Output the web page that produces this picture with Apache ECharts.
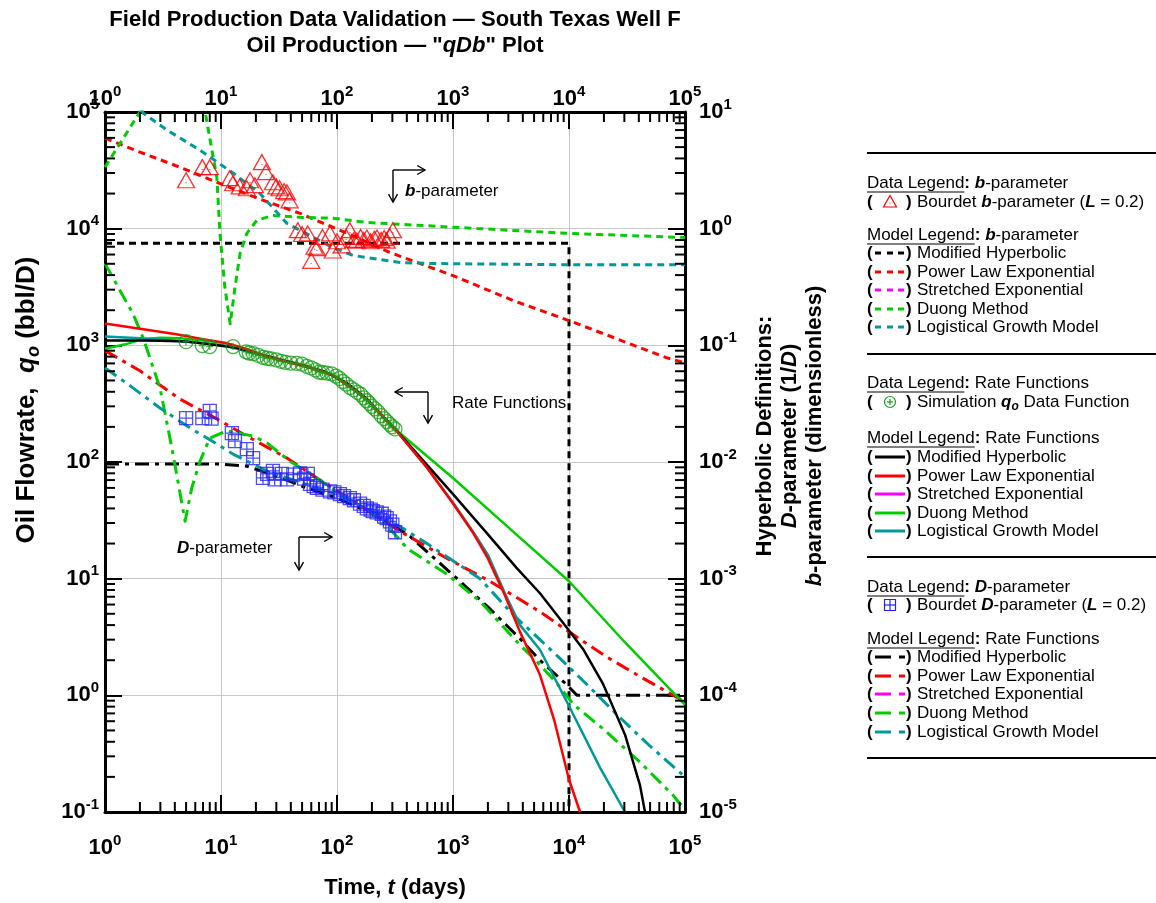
<!DOCTYPE html>
<html>
<head>
<meta charset="utf-8">
<title>qDb Plot — South Texas Well F</title>
<script src="https://cdn.jsdelivr.net/npm/echarts@6.0.0/dist/echarts.min.js"></script>
<style>
html,body{margin:0;padding:0;background:#fff;}
#chart{width:1156px;height:903px;}
</style>
</head>
<body>
<div id="chart"></div>
<script>
// ---- axis extents ----
const timeRange = [1, 1e5];      // days
const rateRange = [0.1, 1e5];    // oil flowrate, bbl/D
const paramRange = [1e-5, 10];   // D (1/D) and b (dimensionless)

// ---- data functions [t (days), value] ----
const simRate = [
  [5,1075],[6.9,995],[8,975],[12.7,975],[16.5,880],[17.5,860],[19,850],[21,820],[23,790],[25,775],
  [27,765],[30,750],[33,730],[36,715],[40,705],[45,700],[50,690],[55,660],[60,640],[65,615],
  [70,590],[75,585],[82,578],[90,570],[98,545],[105,520],[112,490],[120,465],[130,435],[140,415],
  [150,395],[160,380],[170,355],[180,335],[190,318],[200,300],[212,285],[225,270],[240,250],
  [255,235],[270,222],[285,210],[300,200],[316,192]
];
const bourdetB = [
  [5,2.6],[6.9,3.37],[8,3.37],[11.9,2.71],[12.7,2.45],[14.5,2.3],[16.7,2.22],[17.8,2.6],[19.6,2.36],
  [22.5,3.72],[24.4,3.05],[28,2.5],[30,2.3],[32,2.22],[35,2.1],[37,2.05],[39,1.75],[46,0.97],[50,0.9],
  [56,0.91],[60,0.53],[64,0.7],[67,0.68],[75,0.85],[87,0.91],[92,0.65],[100,0.78],[110,0.72],
  [120,0.85],[129,0.97],[140,0.8],[148,0.79],[160,0.85],[170,0.8],[181,0.84],[195,0.78],[210,0.82],
  [221,0.84],[240,0.8],[255,0.83],[268,0.79],[285,0.86],[303,0.97]
];
const bourdetD = [
  [5,0.0238],[6.9,0.0238],[8,0.0274],[8.3,0.0235],[12.4,0.0177],[13.2,0.0151],[16.7,0.0129],
  [18.9,0.0108],[23,0.0073],[25,0.0079],[28,0.0084],[29,0.0071],[33.5,0.0079],[37,0.0071],
  [42,0.0078],[48,0.0080],[52,0.0072],[56,0.0079],[58.5,0.0065],[63,0.0062],[67,0.0060],
  [75,0.0058],[87,0.0056],[95,0.0055],[106,0.0053],[115,0.0051],[129,0.0049],[140,0.0047],
  [158,0.0044],[170,0.0042],[181,0.0040],[195,0.0039],[203,0.0038],[220,0.0037],[243,0.0036],
  [255,0.0034],[268,0.0033],[286,0.0031],[300,0.0029],[316,0.0025]
];

// ---- rate model functions, qo (bbl/D) ----
const qModHyp = [
  [1,1100],[2,1100],[3,1095],[5,1080],[8,1020],[13,960],[20,860],[30,770],[50,680],[80,590],
  [120,480],[180,350],[250,245],[316,192],[500,115],[1000,53],[2000,24],[3500,12.5],[5620,7.5],
  [1e4,3.6],[13200,2.5],[19600,1.26],[30400,0.46],[40900,0.17],[45200,0.1]
];
const qPowerLaw = [
  [1,1540],[2,1390],[4,1250],[7,1130],[11,1050],[16,940],[25,800],[40,710],[60,640],[90,560],
  [130,440],[180,345],[250,245],[316,192],[600,89],[1000,44],[1500,24.5],[2000,14.9],[2800,7.2],
  [3780,3.5],[5620,1.5],[7500,0.6],[1e4,0.19],[12450,0.1]
];
const qDuong = [
  [1,935],[1.5,1020],[2.1,1130],[3,1160],[4.5,1150],[7,1100],[11,1040],[16,940],[25,800],[40,710],
  [60,640],[90,560],[130,440],[180,345],[250,245],[316,192],[1000,73],[3000,27.5],[1e4,9.5],
  [3e4,2.88],[1e5,0.83]
];
const qLogistic = [
  [1,1190],[2,1150],[4,1100],[7,1040],[11,990],[16,900],[25,800],[40,710],[60,640],[90,560],
  [130,440],[180,345],[250,245],[316,192],[600,89],[1000,45],[1500,25],[2000,16],[2800,7.5],
  [3780,4.0],[5620,2.46],[1e4,0.81],[18500,0.24],[30400,0.1]
];

// ---- b-parameter model functions ----
const bModHyp = [[1,0.75],[1e4,0.75],[1e4,1e-5]];
const bPowerLaw = [
  [1,5.97],[2,4.53],[4.4,3.37],[9.2,2.5],[21.7,1.79],[48,1.35],[129,0.893],[285,0.625],
  [1000,0.396],[3300,0.242],[1e4,0.163],[7e4,0.078],[1e5,0.0708]
];
const bDuong = [
  [1,3.37],[2,10],[2.3,20],[6.5,20],[7.3,10],[9.2,2.76],[9.8,0.912],[10.8,0.313],[12,0.153],
  [13.2,0.313],[14.6,0.613],[16.7,0.912],[20.4,1.18],[28,1.3],[48,1.25],[92,1.23],[181,1.13],
  [490,1.07],[1710,1.0],[1e4,0.91],[1e5,0.84]
];
const bLogistic = [
  [1.9,13],[2.13,9.8],[3.42,7.0],[6.6,4.7],[12.7,3.0],[21.7,2.0],[37,1.11],[92,0.69],[137,0.59],
  [350,0.513],[630,0.503],[1e4,0.49],[1e5,0.49]
];

// ---- D-parameter model functions ----
const dModHyp = [
  [1,0.0096],[10,0.0096],[16.7,0.0092],[30,0.0076],[50,0.0062],[100,0.0049],[200,0.00364],
  [316,0.00281],[426,0.0023],[1150,9.5e-4],[2085,5.5e-4],[3780,3.06e-4],[5620,2.0e-4],
  [9600,1.23e-4],[11700,1.0e-4],[1e5,1.0e-4]
];
const dPowerLaw = [
  [1,0.09],[2,0.0605],[4.4,0.0347],[9.2,0.0234],[15.5,0.0174],[37,0.0108],[67,0.0073],[130,0.0048],
  [350,0.00255],[890,0.00149],[2085,9.5e-4],[5620,5.2e-4],[1e4,3.5e-4],[21000,2.14e-4],
  [44000,1.39e-4],[1e5,8.8e-5]
];
const dDuong = [
  [1,0.504],[1.35,0.294],[1.74,0.187],[2.13,0.116],[2.98,0.0432],[3.86,0.0117],[4.9,0.0031],
  [5.6,0.006],[6.6,0.0102],[8,0.016],[11.2,0.0185],[18.9,0.0167],[24.9,0.0146],[39,0.0102],
  [67,0.0073],[100,0.0055],[200,0.0037],[316,0.0024],[401,0.00182],[888,0.00109],[1710,6.4e-4],
  [3780,2.7e-4],[5300,1.94e-4],[7900,1.26e-4],[11000,8.3e-5],[19500,5.2e-5],[40900,2.68e-5],
  [78900,1.39e-5],[1e5,1.04e-5]
];
const dLogistic = [
  [1,0.0641],[1.74,0.0432],[2.98,0.029],[5.4,0.0196],[9.2,0.0143],[12.7,0.0117],[24.9,0.00836],
  [50,0.0066],[100,0.0052],[200,0.0038],[370,0.0027],[630,0.00193],[1220,0.00125],[1710,0.001],
  [3300,4.9e-4],[5620,3.0e-4],[8400,2.06e-4],[15000,1.18e-4],[26000,6.8e-5],[48800,3.75e-5],
  [1e5,2.0e-5]
];

// ---- legend texts ----
const modelNames = ['Modified Hyperbolic','Power Law Exponential','Stretched Exponential','Duong Method','Logistical Growth Model'];

// ---- styling ----
const FONT = '"Liberation Sans", Arial, Helvetica, sans-serif';
const COL = {
  black:'#000000', red:'#ff0000', magenta:'#ff00ff', green:'#00cc00',
  teal:'#009999', dataGreen:'#169f16', blue:'#2222ff', grid:'#c8c8c8'
};
const modelColors = [COL.black, COL.red, COL.magenta, COL.green, COL.teal];
const DASH_B = [7,5];
const DASH_D = [14,6,4,6];

const SYM_TRIANGLE = 'path://M10,0 L20,18 L0,18 Z M10,11.5 L10,12.5';
const SYM_CIRCLE_PLUS = 'path://M10,0 A10,10 0 1,1 9.99,0 Z M10,5 L10,15 M5,10 L15,10';
const SYM_SQUARE_GRID = 'path://M0,0 L20,0 L20,20 L0,20 Z M10,0 L10,20 M0,10 L20,10';

function modelLine(name, data, color, yAxisIndex, kind) {
  return {
    name, type:'line', data, xAxisIndex:0, yAxisIndex,
    symbol:'none', showSymbol:false, clip:true, z:3, smooth:false,
    lineStyle:{
      color,
      width: kind === 'solid' ? 2.5 : 3,
      type: kind === 'solid' ? 'solid' : (kind === 'dash' ? DASH_B : DASH_D),
      cap:'butt', join:'round'
    },
    emphasis:{disabled:true}
  };
}
function dataPoints(name, data, yAxisIndex, symbol, size, color) {
  return {
    name, type:'scatter', data, xAxisIndex:0, yAxisIndex, symbol, symbolSize:size, z:8,
    itemStyle:{color:'rgba(0,0,0,0)', borderColor:color, borderWidth:1.3},
    emphasis:{disabled:true}
  };
}

// decade tick labels as 10^n
function powLabel(v) {
  const e = Math.round(Math.log10(v));
  return '{b|10}{e|' + e + '}';
}
const labelRich = {
  b:{fontFamily:FONT, fontWeight:'bold', fontSize:22, lineHeight:30, color:'#000'},
  e:{fontFamily:FONT, fontWeight:'bold', fontSize:15, lineHeight:15, verticalAlign:'top', color:'#000'}
};
function logAxis(extra, margin) {
  return Object.assign({
    type:'log', logBase:10,
    axisLine:{show:true, onZero:false, lineStyle:{color:'#000', width:3}},
    axisTick:{show:true, inside:true, length:17, lineStyle:{color:'#000', width:2}},
    axisLabel:{show:true, formatter:powLabel, rich:labelRich, margin:margin,
               showMinLabel:true, showMaxLabel:true, hideOverlap:false},
    splitLine:{show:false},
    minorTick:{show:false},
    axisPointer:{show:false}
  }, extra);
}

// 2..9 minor ticks on each decade, placed through the axis scales
function minorTickSeries(yAxisIndex) {
  return {
    type:'custom', xAxisIndex:0, yAxisIndex, silent:true, clip:false, z:9,
    data:[[1,1]],
    renderItem(params, api) {
      const kids = [];
      const seg = (x1,y1,x2,y2) => kids.push({type:'line', shape:{x1,y1,x2,y2}, style:{stroke:'#000', lineWidth:2}});
      const L = 10;
      if (yAxisIndex === 0) {
        for (let e = 0; e < 5; e++) for (let k = 2; k <= 9; k++) {
          const t = k * Math.pow(10, e);
          const pb = api.coord([t, rateRange[0]]);
          const pt = api.coord([t, rateRange[1]]);
          seg(pb[0], pb[1], pb[0], pb[1] - L);
          seg(pt[0], pt[1], pt[0], pt[1] + L);
        }
        for (let e = -1; e < 5; e++) for (let k = 2; k <= 9; k++) {
          const p = api.coord([timeRange[0], k * Math.pow(10, e)]);
          seg(p[0], p[1], p[0] + L, p[1]);
        }
      } else {
        for (let e = -5; e < 1; e++) for (let k = 2; k <= 9; k++) {
          const p = api.coord([timeRange[1], k * Math.pow(10, e)]);
          seg(p[0], p[1], p[0] - L, p[1]);
        }
      }
      return {type:'group', children:kids};
    }
  };
}

// ---- annotation and legend graphics ----
const G = [];
function richFor(size, weight) {
  return {
    bi:{fontFamily:FONT, fontSize:size, fontWeight:'bold', fontStyle:'italic'},
    bd:{fontFamily:FONT, fontSize:size, fontWeight:'bold'},
    sub:{fontFamily:FONT, fontSize:Math.round(size * 0.68), fontWeight:'bold', fontStyle:'italic',
         lineHeight:Math.round(size * 0.7), verticalAlign:'bottom'}
  };
}
function txt(x, y, text, opts) {
  opts = opts || {};
  const size = opts.size || 17;
  const weight = opts.weight || 'normal';
  G.push({
    type:'text', x, y, rotation: opts.rotation || 0, z:100, silent:true,
    style:{
      text, fill:'#000',
      fontFamily:FONT, fontSize:size, fontWeight:weight, lineHeight: opts.lineHeight || Math.round(size * 1.25),
      align: opts.align || 'left', textAlign: opts.align || 'left',
      verticalAlign:'middle', textVerticalAlign:'middle',
      rich: richFor(size, weight)
    }
  });
}
function seg(x1, y1, x2, y2, color, w) {
  G.push({type:'line', z:100, silent:true, shape:{x1,y1,x2,y2},
    style:{stroke:color || '#000', lineWidth:w || 1.5}});
}
function arrow(x1, y1, x2, y2) {
  seg(x1, y1, x2, y2, '#000', 1.4);
  const a = Math.atan2(y2 - y1, x2 - x1), L = 9, s = Math.PI / 6;
  G.push({type:'polyline', z:100, silent:true, shape:{points:[
    [x2 - L * Math.cos(a - s), y2 - L * Math.sin(a - s)], [x2, y2],
    [x2 - L * Math.cos(a + s), y2 - L * Math.sin(a + s)]]},
    style:{stroke:'#000', lineWidth:1.4, fill:null}});
}

// titles
txt(395, 20, 'Field Production Data Validation — South Texas Well F', {size:22, weight:'bold', align:'center'});
txt(395, 46, 'Oil Production — "{bi|qDb}" Plot', {size:22, weight:'bold', align:'center'});
txt(395, 888, 'Time, {bi|t} (days)', {size:22, weight:'bold', align:'center'});
txt(27, 400, 'Oil Flowrate,  {bi|q}{sub|o} (bbl/D)', {size:26, weight:'bold', align:'center', rotation:Math.PI / 2});
txt(790, 436, 'Hyperbolic Definitions:\n{bi|D}-parameter (1/{bi|D})\n{bi|b}-parameter (dimensionless)',
    {size:22, weight:'bold', align:'center', rotation:Math.PI / 2, lineHeight:25});

// in-plot annotations
arrow(393, 170, 425, 170); arrow(393, 170, 393, 202);
txt(405, 191, '{bi|b}-parameter');
arrow(428, 392, 395, 392); arrow(428, 392, 428, 423);
txt(452, 403, 'Rate Functions');
arrow(299, 537, 332, 537); arrow(299, 537, 299, 570);
txt(177, 548, '{bi|D}-parameter');

// legend panel
const LX = 867, TX = 917;
const measure = (() => {
  const c = document.createElement('canvas').getContext('2d');
  return (s, f) => { c.font = f; return c.measureText(s).width; };
})();
function header(y, label, rest) {
  txt(LX, y, label + '{bd|:} ' + rest);
  seg(LX, y + 9, LX + measure(label, '17px ' + FONT), y + 9, '#000', 1.2);
}
function parens(y) {
  txt(LX, y, '(', {weight:'bold'});
  txt(906, y, ')', {weight:'bold'});
}
[153, 354, 557, 758].forEach(y => seg(LX, y, 1156, y, '#000', 2));

// b-parameter block
header(183, 'Data Legend', '{bi|b}-parameter');
parens(202);
G.push({type:'polygon', z:100, silent:true, shape:{points:[[890,195.5],[896.5,207],[883.5,207]]},
  style:{stroke:COL.red, fill:null, lineWidth:1.2}});
G.push({type:'circle', z:100, silent:true, shape:{cx:890, cy:203, r:0.6}, style:{fill:COL.red}});
txt(TX, 202, 'Bourdet {bi|b}-parameter ({bi|L} = 0.2)');
header(235, 'Model Legend', '{bi|b}-parameter');
[253, 272, 290, 309, 327].forEach((y, i) => {
  parens(y);
  [[875,881],[887,893],[898,904]].forEach(p => seg(p[0], y, p[1], y, modelColors[i], 3));
  txt(TX, y, modelNames[i]);
});

// rate block
header(383, 'Data Legend', 'Rate Functions');
parens(402);
G.push({type:'circle', z:100, silent:true, shape:{cx:890, cy:402, r:5.5}, style:{stroke:COL.dataGreen, fill:null, lineWidth:1.2}});
seg(887, 402, 893, 402, COL.dataGreen, 1.2); seg(890, 399, 890, 405, COL.dataGreen, 1.2);
txt(TX, 402, 'Simulation {bi|q}{sub|o} Data Function');
header(438, 'Model Legend', 'Rate Functions');
[457, 476, 494, 513, 531].forEach((y, i) => {
  parens(y);
  seg(875, y, 905, y, modelColors[i], 3);
  txt(TX, y, modelNames[i]);
});

// D-parameter block
header(587, 'Data Legend', '{bi|D}-parameter');
parens(605);
G.push({type:'rect', z:100, silent:true, shape:{x:884.5, y:599.5, width:11, height:11}, style:{stroke:COL.blue, fill:null, lineWidth:1.2}});
seg(884.5, 605, 895.5, 605, COL.blue, 1.2); seg(890, 599.5, 890, 610.5, COL.blue, 1.2);
txt(TX, 605, 'Bourdet {bi|D}-parameter ({bi|L} = 0.2)');
header(639, 'Model Legend', 'Rate Functions');
[657, 676, 694, 713, 732].forEach((y, i) => {
  parens(y);
  seg(875, y, 891, y, modelColors[i], 3);
  seg(899, y, 905, y, modelColors[i], 3);
  txt(TX, y, modelNames[i]);
});

// ---- chart ----
const chart = echarts.init(document.getElementById('chart'), null, {renderer:'canvas'});
chart.setOption({
  animation:false,
  backgroundColor:'#ffffff',
  grid:{left:105, right:471, top:112, bottom:91, containLabel:false},
  xAxis:[
    logAxis({min:timeRange[0], max:timeRange[1], position:'bottom',
      splitLine:{show:true, lineStyle:{color:COL.grid, width:1}}}, 21),
    logAxis({min:timeRange[0], max:timeRange[1], position:'top'}, -2)
  ],
  yAxis:[
    logAxis({min:rateRange[0], max:rateRange[1], position:'left',
      splitLine:{show:true, lineStyle:{color:COL.grid, width:1}}}, 6),
    logAxis({min:paramRange[0], max:paramRange[1], position:'right'}, 14)
  ],
  graphic:{elements:G},
  series:[
    // b-parameter models (dashed, right axis)
    modelLine('b Modified Hyperbolic', bModHyp, COL.black, 1, 'dash'),
    modelLine('b Power Law Exponential', bPowerLaw, COL.red, 1, 'dash'),
    modelLine('b Duong Method', bDuong, COL.green, 1, 'dash'),
    modelLine('b Logistical Growth Model', bLogistic, COL.teal, 1, 'dash'),
    // D-parameter models (dash-dot, right axis)
    modelLine('D Modified Hyperbolic', dModHyp, COL.black, 1, 'dashdot'),
    modelLine('D Power Law Exponential', dPowerLaw, COL.red, 1, 'dashdot'),
    modelLine('D Duong Method', dDuong, COL.green, 1, 'dashdot'),
    modelLine('D Logistical Growth Model', dLogistic, COL.teal, 1, 'dashdot'),
    // rate models (solid, left axis)
    modelLine('q Duong Method', qDuong, COL.green, 0, 'solid'),
    modelLine('q Logistical Growth Model', qLogistic, COL.teal, 0, 'solid'),
    modelLine('q Modified Hyperbolic', qModHyp, COL.black, 0, 'solid'),
    modelLine('q Power Law Exponential', qPowerLaw, COL.red, 0, 'solid'),
    // data functions
    dataPoints('Bourdet b-parameter', bourdetB, 1, SYM_TRIANGLE, [17,15], COL.red),
    dataPoints('Bourdet D-parameter', bourdetD, 1, SYM_SQUARE_GRID, 13, COL.blue),
    dataPoints('Simulation qo', simRate, 0, SYM_CIRCLE_PLUS, 14, COL.dataGreen),
    minorTickSeries(0),
    minorTickSeries(1)
  ]
});
</script>
</body>
</html>
